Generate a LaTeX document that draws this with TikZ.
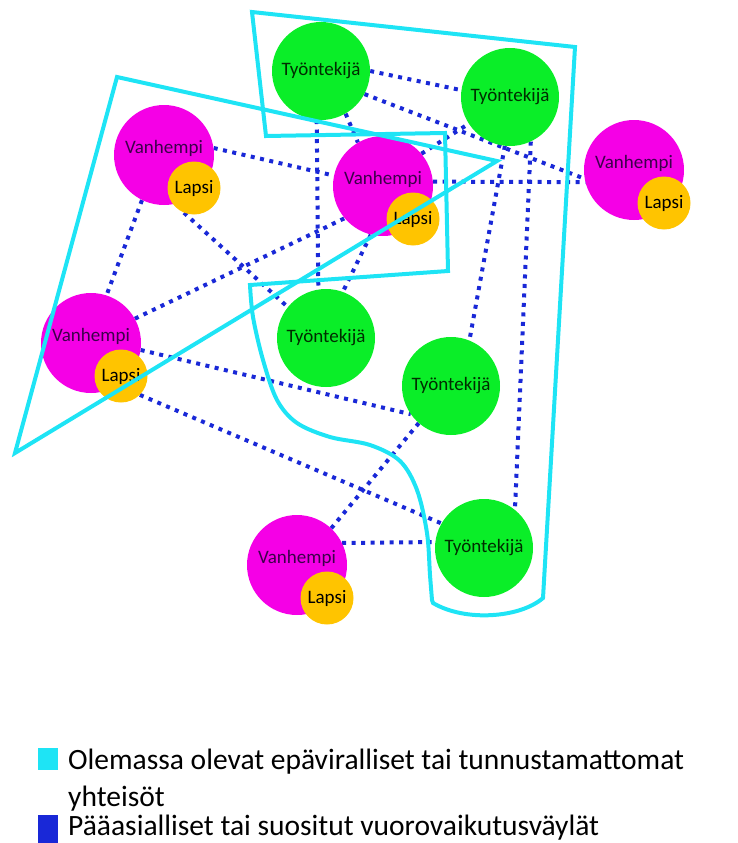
\documentclass[tikz,border=0pt]{standalone}
\usepackage{fontspec}
\setmainfont{Carlito}
\usetikzlibrary{backgrounds}

\definecolor{parentpink}{RGB}{245,0,230}
\definecolor{workergreen}{RGB}{10,238,40}
\definecolor{childgold}{RGB}{255,196,0}
\definecolor{groupcyan}{RGB}{30,228,245}
\definecolor{linkblue}{RGB}{25,40,215}
\definecolor{parenttext}{RGB}{60,0,75}
\definecolor{workertext}{RGB}{0,45,0}

\newcommand\circfont{\fontsize{19}{21}\selectfont}
\newcommand\keyfont{\fontsize{29.5}{31}\selectfont}

\begin{document}
\begin{tikzpicture}[x=1pt,y=-1pt,
    parent/.style={circle,fill=parentpink,minimum size=100pt,inner sep=0pt,
      label={[font=\circfont,text=parenttext,yshift=7pt]center:Vanhempi}},
    child/.style={circle,fill=childgold,minimum size=53pt,inner sep=0pt,font=\circfont},
    worker/.style={circle,fill=workergreen,minimum size=98pt,inner sep=0pt,
      font=\circfont,text=workertext},
    link/.style={linkblue,line width=4pt,dash pattern=on 4pt off 5.5pt},
    group/.style={groupcyan,line width=4pt,line join=miter},
    keybox/.style={minimum width=20pt,inner sep=0pt},
    keytext/.style={anchor=base west,font=\keyfont,inner sep=0pt}]
    \useasboundingbox (0,0) rectangle (737,843);

    % parents with their children
    \foreach \i/\x/\y in {1/164/155, 2/383/186, 3/634/170, 4/91/343, 5/297/565}{
      \node[parent] (V\i) at (\x,\y) {};
      \node[child] (L\i) at ([shift={(30,33)}]V\i.center) {Lapsi};
    }

    % workers
    \node[worker] (T1) at (321,71) {Työntekijä};
    \node[worker] (T2) at (510,97) {Työntekijä};
    \node[worker] (T3) at (326,338) {Työntekijä};
    \node[worker] (T4) at (451,386) {Työntekijä};
    \node[worker] (T5) at (484,548) {Työntekijä};

    % interaction paths
    \begin{scope}[on background layer]
      \draw[link] (T1.0) -- (T2.172);
      \draw[link] (T1.-28) -- (V3.190);
      \draw[link] (T1.-60) -- (V2.120);
      \draw[link] (T1.-95) -- (T3.99);
      \draw[link] (V1.8) -- (V2.168);
      \draw[link] (V2.5) -- (V3.-166);
      \draw[link] (V2.40) -- (T2.213);
      \draw[link] (V2.-104) -- (T3.70);
      \draw[link] (L1.-112) -- (T3.141);
      \draw[link] (V1.-116) -- (V4.72);
      \draw[link] (V4.29) -- (V2.-140);
      \draw[link] (V4.-8) -- (T4.215);
      \draw[link] (L4.-45) -- (T5.150);
      \draw[link] (V5.47) -- (T4.-131);
      \draw[link] (V5.26) -- (T5.173);
      \draw[link] (T2.-65) -- (T5.51);
      \draw[link] (T2.-96) -- (T4.68);
    \end{scope}

    % communities
    \draw[group] (117,77) -- (497,161) -- (15,453) -- cycle;
    \draw[group] (252,12) -- (575,47) -- (543,598)
      .. controls (520,618) and (465,622) .. (433,603)
      -- plot[smooth,tension=0.55] coordinates {(432,600) (430,575) (427,533)
        (417,490) (400,461) (370,445) (330,437) (297,423) (277,400) (263,360)
        (253,317) (250,285)}
      -- (448,271) -- (445,133) -- (266,136) -- cycle;

    % key
    \node[keybox,fill=groupcyan,minimum height=22pt] (KeyGroup) at (48,759) {};
    \node[keybox,fill=linkblue,minimum height=28pt] (KeyLink) at (48,829) {};
    \node[keytext] (GroupA) at (68,769) {Olemassa olevat epäviralliset tai tunnustamattomat};
    \node[keytext] (GroupB) at (68,806) {yhteisöt};
    \node[keytext] (LinkA) at (68,835) {Pääasialliset tai suositut vuorovaikutusväylät};
\end{tikzpicture}
\end{document}
